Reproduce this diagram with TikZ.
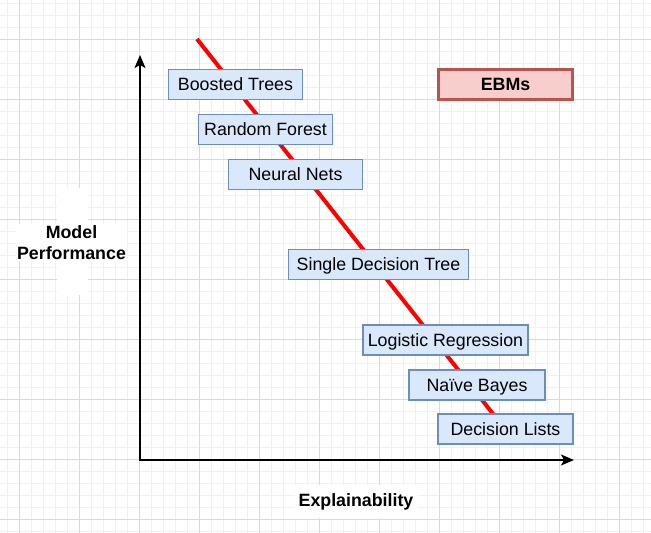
\documentclass[tikz,border=0pt]{standalone}
\usepackage{fontspec}
\setmainfont{Liberation Sans}
\usetikzlibrary{arrows.meta}
\definecolor{boxfill}{HTML}{DAE8FC}
\definecolor{boxline}{HTML}{6C8EBF}
\definecolor{ebmfill}{HTML}{F8CECC}
\definecolor{ebmline}{HTML}{B85450}
\definecolor{gridminor}{HTML}{F1F1F1}
\definecolor{gridmajor}{HTML}{DADADA}
\begin{document}
\begin{tikzpicture}[x=1pt,y=-1pt,
  txt/.style={font=\fontsize{17.8}{21}\selectfont, text height=12.7pt, text depth=0pt},
  model/.style={txt, draw=boxline, fill=boxfill, line width=1.2pt, minimum height=30pt, inner sep=0pt},
  ebm/.style={txt, font=\fontsize{17.8}{21}\selectfont\bfseries, draw=ebmline, fill=ebmfill, line width=3pt, minimum width=134pt, minimum height=30pt, inner sep=0pt},
  axislabel/.style={font=\fontsize{17.8}{21}\selectfont\bfseries, align=center, inner sep=1pt, fill=white},
  axisline/.style={line width=1.3pt, {Stealth[length=13pt,width=11pt,inset=3pt]}-{Stealth[length=13pt,width=11pt,inset=3pt]}},
  trend/.style={red, line width=4pt}
]
\useasboundingbox (0,0) rectangle (651,533);
\fill[white] (0,0) rectangle (651,533);
% grid
\foreach \x in {7,19,...,651} \draw[gridminor, line width=1pt] (\x,0) -- (\x,533);
\foreach \y in {3,15,...,533} \draw[gridminor, line width=1pt] (0,\y) -- (651,\y);
\foreach \x in {19,79,...,651} \draw[gridmajor, line width=1pt] (\x,0) -- (\x,533);
\foreach \y in {39,99,...,533} \draw[gridmajor, line width=1pt] (0,\y) -- (651,\y);
% label backgrounds
\fill[white] (57,188) rectangle (88,295);
\fill[white] (295,485) rectangle (418,518);
% trend line
\coordinate (rs) at (197,39);
\coordinate (re) at (516,443);
\draw[trend] (rs) -- (re);
% axes
\coordinate (origin) at (140,460);
\coordinate (ytip) at (140,55);
\coordinate (xtip) at (574,460);
\draw[axisline] (ytip) -- (origin) -- (xtip);
% models
\node[model, minimum width=134pt] (bt) at (235.5,84.5) {Boosted Trees};
\node[model, minimum width=134pt] (rf) at (265.5,129.5) {Random Forest};
\node[model, minimum width=134pt] (nn) at (295.5,174.5) {Neural Nets};
\node[model, minimum width=180pt] (sdt) at (378.5,264.5) {Single Decision Tree};
\node[model, minimum width=165pt] (lr) at (445.5,340) {Logistic Regression};
\node[model, minimum width=136pt] (nb) at (477,385) {Naïve Bayes};
\node[model, minimum width=135pt] (dl) at (505.5,429) {Decision Lists};
\node[ebm] (ebms) at (505.5,84.5) {EBMs};
% axis labels
\node[axislabel] (perf) at (71.5,242.5) {Model\\Performance};
\node[axislabel] (expl) at (356,501.5) {Explainability};
\end{tikzpicture}
\end{document}
